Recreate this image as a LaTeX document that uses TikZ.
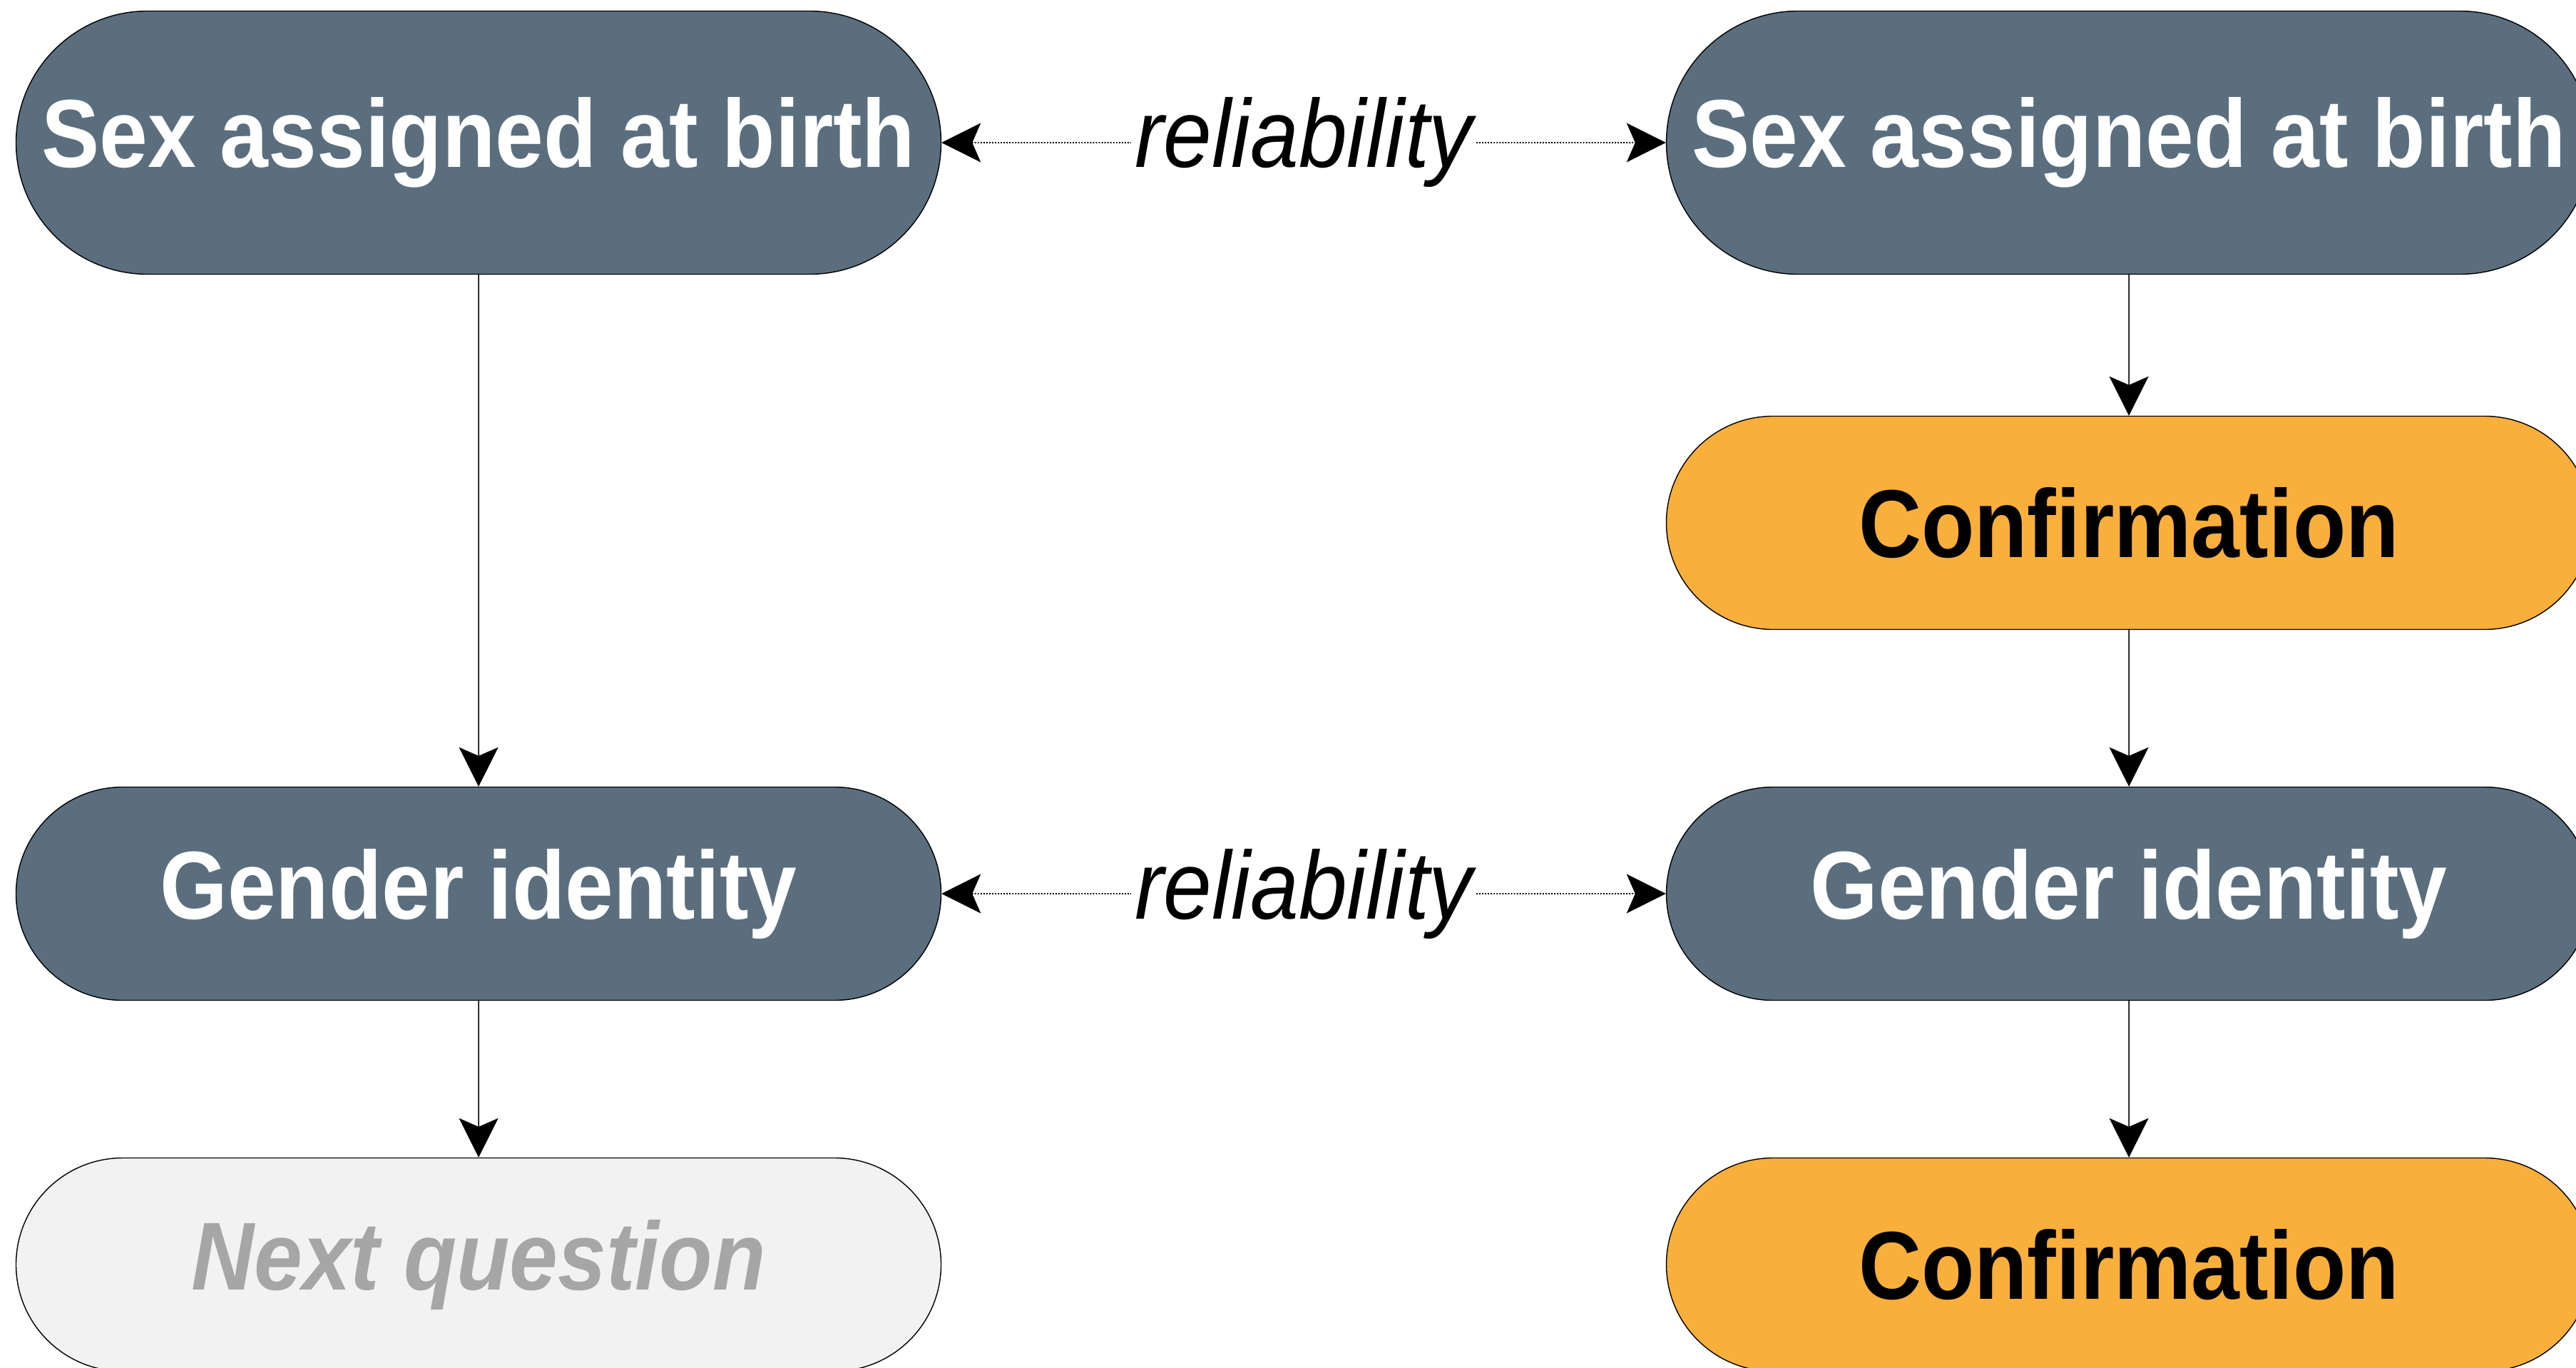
\documentclass[tikz,border=0pt]{standalone}
\usepackage{fontspec}
\setmainfont{Liberation Sans}[FakeStretch=0.9]
\usetikzlibrary{arrows.meta, shapes.misc}

\definecolor{slate}{HTML}{5A6E7E}
\definecolor{amber}{HTML}{F9AF3B}
\definecolor{pale}{HTML}{F2F2F2}
\definecolor{mute}{HTML}{A6A6A6}

\begin{document}
\begin{tikzpicture}[
            > = {Stealth[length=5.5mm, width=5.5mm, inset=1.2mm]}, % arrow head style
            thin % line style
        ]

        \tikzstyle{item}=[
            rounded rectangle,
            draw = black,
            inner sep = 0pt,
            minimum width = 12.97cm,
            minimum height = 2.99cm,
            font = \fontsize{38.5}{46}\selectfont\bfseries
        ]
        \tikzstyle{question}=[item, fill = slate, text = white]
        \tikzstyle{check}=[item, fill = amber, text = black]
        \tikzstyle{skip}=[item, fill = pale, text = mute,
            font = \fontsize{38.5}{46}\selectfont\bfseries\itshape]
        \tikzstyle{rel}=[
            fill = white,
            inner sep = 0.5mm,
            font = \fontsize{38.5}{46}\selectfont\itshape
        ]
        \tikzstyle{dots}=[line width = 0.5pt, dash pattern = on 0.55pt off 0.6pt]

	\useasboundingbox (0,0) rectangle (36.12,-19.17);

	\node[question, minimum height=3.69cm] (sexL) at (6.71,-2.00) {Sex assigned at birth};
	\node[question, minimum height=3.69cm] (sexR) [right of=sexL, node distance=23.14cm] {Sex assigned at birth};
	\node[check] (confA) [below of=sexR, node distance=5.33cm] {Confirmation};
	\node[question] (genR) [below of=confA, node distance=5.20cm] {Gender identity};
	\node[check] (confB) [below of=genR, node distance=5.20cm] {Confirmation};
	\node[question] (genL) [left of=genR, node distance=23.14cm] {Gender identity};
	\node[skip] (next) [below of=genL, node distance=5.20cm] {Next question};

	\path[->] (sexL) edge (genL);
	\path[->] (genL) edge (next);
	\path[->] (sexR) edge (confA);
	\path[->] (confA) edge (genR);
	\path[->] (genR) edge (confB);

	\path[<->, dots] (sexL) edge node[rel] {reliability} (sexR);
	\path[<->, dots] (genL) edge node[rel] {reliability} (genR);

    \end{tikzpicture}
\end{document}
